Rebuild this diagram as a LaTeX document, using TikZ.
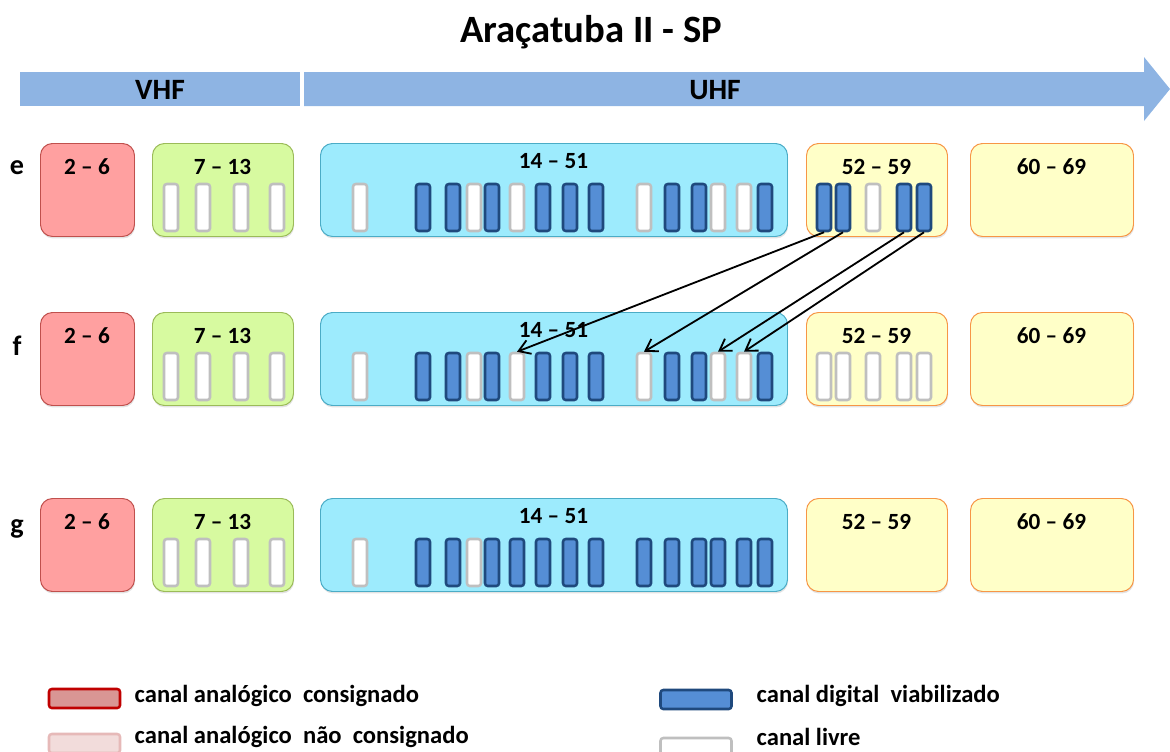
\documentclass[tikz,border=0pt]{standalone}
\usepackage{fontspec}
\setmainfont{Carlito}
\usetikzlibrary{arrows.meta,shadows}
\definecolor{bandc}{HTML}{8EB4E3}
\definecolor{redfill}{HTML}{FFA0A0}
\definecolor{redline}{HTML}{C0504D}
\definecolor{greenfill}{HTML}{D7FAA0}
\definecolor{greenline}{HTML}{9BBB59}
\definecolor{bluefill}{HTML}{9DEBFD}
\definecolor{blueline}{HTML}{4BACC6}
\definecolor{yelfill}{HTML}{FFFFC8}
\definecolor{yelline}{HTML}{F79646}
\definecolor{digfill}{HTML}{558ED5}
\definecolor{digline}{HTML}{1F497D}
\definecolor{freeline}{HTML}{BFBFBF}
\definecolor{anafill}{HTML}{D99694}
\definecolor{analine}{HTML}{C00000}
\definecolor{nanafill}{HTML}{F2DCDB}
\definecolor{nanaline}{HTML}{E6B9B8}

\begin{document}
\begin{tikzpicture}[x=0.025cm, y=-0.025cm, font=\bfseries,
  grp/.style={rounded corners=0.3cm, line width=0.7pt, inner sep=0,
    anchor=north west, minimum height=93*\px,
    drop shadow={opacity=0.22, shadow xshift=0.4pt, shadow yshift=-1.4pt}},
  redgrp/.style={grp, fill=redfill, draw=redline},
  greengrp/.style={grp, fill=greenfill, draw=greenline},
  bluegrp/.style={grp, fill=bluefill, draw=blueline},
  yelgrp/.style={grp, fill=yelfill, draw=yelline},
  grplbl/.style={font=\fontsize{16.5}{19}\selectfont\bfseries},
  slot/.style={rounded corners=0.07cm, line width=1.8pt, inner sep=0,
    minimum width=14*\px, minimum height=47*\px},
  slotD/.style={slot, fill=digfill, draw=digline},
  slotW/.style={slot, fill=white, draw=freeline},
  mv/.style={-{Straight Barb[length=2.8mm,width=3.6mm]}, line width=1.3pt},
  legbox/.style={rounded corners=0.07cm, line width=1.8pt, inner sep=0,
    minimum width=71*\px, minimum height=19*\px},
  legtxt/.style={anchor=west, inner sep=1pt,
    font=\fontsize{17.5}{20}\selectfont\bfseries}]

\def\px{0.025cm}
\def\uhfx{{360,423,453,474,492,517,543,570,596,644,672,699,718,744,765}}
\def\extx{{824,843,873,904,924}}

\useasboundingbox (0,0) rectangle (1170,751);

\node[font=\fontsize{27.5}{32}\selectfont\bfseries] (title) at (591,32)
  {Araçatuba II - SP};

% frequency band
\fill[bandc] (20,72) rectangle (300,106);
\fill[bandc] (304,72) -- (1144,72) -- (1144,57) -- (1170,89) -- (1144,121)
  -- (1144,106) -- (304,106) -- cycle;
\node[font=\fontsize{21}{25}\selectfont\bfseries] (vhf) at (160,90) {VHF};
\node[font=\fontsize{21}{25}\selectfont\bfseries] (uhf) at (715,90) {UHF};

\foreach \r/\ty/\ly in {e/143/168, f/312/346, g/498/529}{
  \node[font=\fontsize{20}{24}\selectfont\bfseries] (lbl-\r) at (17,\ly) {\r};
  \foreach \gn/\gx/\gw/\sty/\lo/\lbl in {%
    a/40/94/redgrp/24/{2 – 6},
    b/152/141/greengrp/24/{7 – 13},
    c/320/467/bluegrp/18/{14 – 51},
    d/806/141/yelgrp/24/{52 – 59},
    h/970/163/yelgrp/24/{60 – 69}%
  }{
    \node[\sty, minimum width=\gw*\px] (\r-\gn) at (\gx,\ty) {};
    \node[grplbl] (\r-\gn-t) at (\gx+\gw/2,\ty+\lo) {\lbl};
  }
  \foreach \sx [count=\i] in {171,203,241,277}
    \node[slotW] (\r-v\i) at (\sx,\ty+64.5) {};
}

% channel states: D digital, W free, N none
\foreach \r/\ty/\lu/\lh in {%
  e/143/{W,D,D,W,D,W,D,D,D,W,D,D,W,W,D}/{D,D,W,D,D},
  f/312/{W,D,D,W,D,W,D,D,D,W,D,D,W,W,D}/{W,W,W,W,W},
  g/498/{W,D,D,W,D,D,D,D,D,D,D,D,D,D,D}/{N}%
}{
  \foreach \s [count=\i] in \lu {
    \pgfmathsetmacro{\sx}{\uhfx[\i-1]}
    \node[slot\s] (\r-u\i) at (\sx,\ty+64.5) {};
  }
  \foreach \s [count=\i] in \lh {
    \if\s N\else
      \pgfmathsetmacro{\sx}{\extx[\i-1]}
      \node[slot\s] (\r-x\i) at (\sx,\ty+64.5) {};
    \fi
  }
}

\draw[mv] (e-x1.south) -- (f-u6.north);
\draw[mv] (e-x2.south) -- (f-u10.north);
\draw[mv] (e-x4.south) -- (f-u13.north);
\draw[mv] (e-x5.south) -- (f-u14.north);

% legend
\node[legbox, fill=anafill, draw=analine] (leg-a) at (84.5,698.5) {};
\node[legtxt] (leg-a-t) at (133,696) {canal analógico\ \ consignado};
\node[legbox, fill=nanafill, draw=nanaline] (leg-n) at (84.5,743.5) {};
\node[legtxt] (leg-n-t) at (133,737) {canal analógico\ \ não\ \ consignado};
\node[legbox, fill=digfill, draw=digline] (leg-d) at (696,699.5) {};
\node[legtxt] (leg-d-t) at (755,696) {canal digital\ \ viabilizado};
\node[legbox, fill=white, draw=freeline] (leg-w) at (696,747.5) {};
\node[legtxt] (leg-w-t) at (755,737) {canal livre};

\end{tikzpicture}
\end{document}
